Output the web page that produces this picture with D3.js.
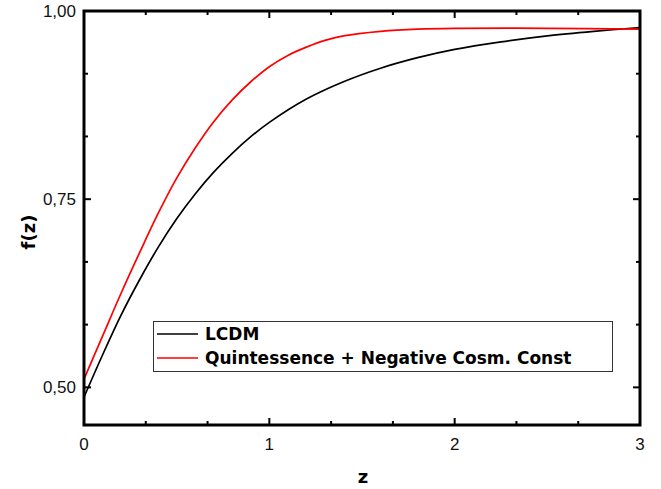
<!DOCTYPE html>
<html>
<head>
<meta charset="utf-8">
<script src="https://cdn.jsdelivr.net/npm/d3@7"></script>
<style>
  html, body { margin: 0; padding: 0; background: #fff; }
  svg { display: block; }
</style>
</head>
<body>
<svg id="chart" width="661" height="489"></svg>
<script>
// Growth rate f(z) for two cosmological models
const zLCDM = [0, 0.1, 0.2, 0.3, 0.4, 0.5, 0.6, 0.7, 0.8, 0.9, 1.0, 1.2, 1.4, 1.6, 1.8, 2.0, 2.25, 2.5, 2.75, 3.0];
const fLCDM = [0.487, 0.543, 0.596, 0.643, 0.686, 0.724, 0.757, 0.786, 0.811, 0.833, 0.852, 0.883, 0.906, 0.924, 0.938, 0.949, 0.959, 0.967, 0.973, 0.978];

const zQuint = [0, 0.1, 0.2, 0.3, 0.4, 0.5, 0.6, 0.7, 0.8, 0.9, 1.0, 1.1, 1.2, 1.3, 1.4, 1.6, 1.8, 2.0, 2.5, 3.0];
const fQuint = [0.511, 0.568, 0.625, 0.679, 0.731, 0.778, 0.818, 0.853, 0.882, 0.906, 0.926, 0.941, 0.952, 0.961, 0.967, 0.973, 0.976, 0.977, 0.977, 0.976];

const seriesNames = ["LCDM", "Quintessence + Negative Cosm. Const"];
const seriesColors = ["#000000", "#ff0000"];

const xMajorTicks = [0, 1, 2, 3];
const xMinorTicks = [1/3, 2/3, 4/3, 5/3, 7/3, 8/3];
const yMajorTicks = [0.50, 0.75, 1.00];
const yMinorTicks = [0.5 + 0.25/3, 0.5 + 0.5/3, 0.75 + 0.25/3, 0.75 + 0.5/3];
const xLabel = "z";
const yLabel = "f(z)";

const fmtY = d => d3.format(".2f")(d).replace(".", ",");

const svg = d3.select("#chart");
const plot = { left: 84, top: 11, right: 640, bottom: 425 };

const x = d3.scaleLinear().domain([0, 3]).range([plot.left, plot.right]);
const y = d3.scaleLinear().domain([0.45, 1.0]).range([plot.bottom, plot.top]);

// Curves
const line = d3.line().x(d => x(d[0])).y(d => y(d[1])).curve(d3.curveCatmullRom.alpha(0.5));
const series = [
  d3.zip(zLCDM, fLCDM),
  d3.zip(zQuint, fQuint)
];
series.forEach((pts, i) => {
  svg.append("path")
    .datum(pts)
    .attr("d", line)
    .attr("fill", "none")
    .attr("stroke", seriesColors[i])
    .attr("stroke-width", 1.7);
});

// Inward ticks on all four sides
const tickG = svg.append("g").attr("stroke", "#000").attr("stroke-width", 2);
function xTicks(vals, len) {
  vals.forEach(v => {
    tickG.append("line").attr("x1", x(v)).attr("x2", x(v)).attr("y1", plot.bottom).attr("y2", plot.bottom - len);
    tickG.append("line").attr("x1", x(v)).attr("x2", x(v)).attr("y1", plot.top).attr("y2", plot.top + len);
  });
}
function yTicks(vals, len) {
  vals.forEach(v => {
    tickG.append("line").attr("y1", y(v)).attr("y2", y(v)).attr("x1", plot.left).attr("x2", plot.left + len);
    tickG.append("line").attr("y1", y(v)).attr("y2", y(v)).attr("x1", plot.right).attr("x2", plot.right - len);
  });
}
xTicks(xMajorTicks, 7);
xTicks(xMinorTicks, 4);
yTicks(yMajorTicks, 7);
yTicks(yMinorTicks, 4);

// Frame
svg.append("rect")
  .attr("x", plot.left).attr("y", plot.top)
  .attr("width", plot.right - plot.left).attr("height", plot.bottom - plot.top)
  .attr("fill", "none").attr("stroke", "#000").attr("stroke-width", 3);

// Tick labels
const tickFont = "'Liberation Sans', Arial, sans-serif";
svg.append("g").selectAll("text").data(xMajorTicks).join("text")
  .attr("x", d => x(d)).attr("y", 450)
  .attr("text-anchor", "middle")
  .attr("font-family", tickFont).attr("font-size", 17).attr("fill", "#111")
  .text(d => d3.format("d")(d));

svg.append("g").selectAll("text").data(yMajorTicks).join("text")
  .attr("x", 76).attr("y", d => y(d) + 6)
  .attr("text-anchor", "end")
  .attr("font-family", tickFont).attr("font-size", 17).attr("fill", "#111")
  .text(fmtY);

// Axis titles
const titleFont = "'DejaVu Sans', Verdana, sans-serif";
svg.append("text")
  .attr("x", 363).attr("y", 483)
  .attr("text-anchor", "middle")
  .attr("font-family", titleFont).attr("font-weight", "bold").attr("font-size", 18)
  .text(xLabel);

svg.append("text")
  .attr("transform", `translate(35, 232) rotate(-90)`)
  .attr("text-anchor", "middle")
  .attr("font-family", titleFont).attr("font-weight", "bold").attr("font-size", 18)
  .text(yLabel);

// Legend
const legend = svg.append("g");
legend.append("rect")
  .attr("x", 153.5).attr("y", 321.5).attr("width", 459).attr("height", 50)
  .attr("fill", "#fff").attr("stroke", "#333").attr("stroke-width", 1);
seriesNames.forEach((name, i) => {
  const ly = 334 + i * 24;
  legend.append("line")
    .attr("x1", 157).attr("x2", 198).attr("y1", ly).attr("y2", ly)
    .attr("stroke", seriesColors[i]).attr("stroke-width", 1.6);
  legend.append("text")
    .attr("x", 205).attr("y", ly + 6)
    .attr("font-family", titleFont).attr("font-weight", "bold").attr("font-size", 17)
    .text(name);
});
</script>
</body>
</html>
